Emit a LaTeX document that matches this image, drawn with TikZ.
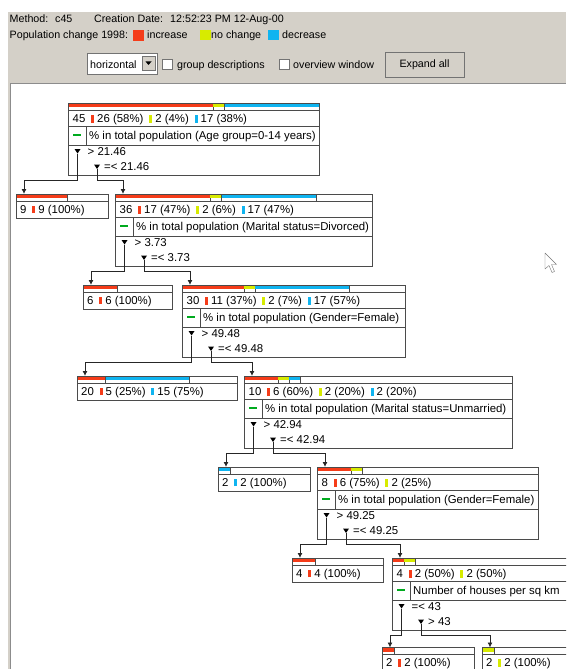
\documentclass[tikz,border=0pt]{standalone}
\usepackage{fontspec}
\setmainfont{Liberation Sans}
\usetikzlibrary{positioning, arrows.meta}
\definecolor{inc}{RGB}{245,60,25}
\definecolor{noch}{RGB}{215,235,0}
\definecolor{dec}{RGB}{15,180,240}
\definecolor{keep}{RGB}{0,170,30}
\definecolor{win}{RGB}{212,208,200}
\definecolor{edge}{RGB}{75,75,75}
\newcommand{\cw}{5.556}
\newcommand{\mk}[1]{\hspace{2.5pt}\textcolor{#1}{\rule{3pt}{7.5pt}}}
\newcommand{\splitnode}[9]{%
  \node[box, minimum width=#4pt] (#1) at (#2,#3) {};
  \begin{scope}[shift={(#1.north west)}]
    \foreach \p/\q/\col in {#5} {
      \fill[\col] (\p*\cw+1,0.7) rectangle (\q*\cw+1,4);
      \draw[row] (\q*\cw+1,0) -- (\q*\cw+1,7);
    }
    \draw[row] (0,7) -- (#4,7) (0,23) -- (#4,23) (0,42) -- (#4,42) (18,23) -- (18,42);
    \node[txt] (#1-c) at (4.5,19.5) {#6};
    \fill[keep] (4.5,30.5) rectangle (12.5,33);
    \node[txt] (#1-a) at (21,36) {#7};
    \coordinate (#1-b1) at (9.5,50.5);
    \coordinate (#1-b2) at (29,66);
    \fill (#1-b1) -- ++(-3,-4.5) -- ++(6,0) -- cycle;
    \fill (#1-b2) -- ++(-3,-4.5) -- ++(6,0) -- cycle;
    \node[txt] (#1-t1) at (19.5,52) {#8};
    \node[txt] (#1-t2) at (36,67.5) {#9};
    \coordinate (#1-j) at (0,77);
    \coordinate (#1-in) at (8,0);
  \end{scope}}
\newcommand{\leafnode}[6]{%
  \node[leaf, minimum width=#4pt] (#1) at (#2,#3) {};
  \begin{scope}[shift={(#1.north west)}]
    \foreach \p/\q/\col in {#5} {
      \fill[\col] (\p*\cw+1,0.7) rectangle (\q*\cw+1,4);
      \draw[row] (\q*\cw+1,0) -- (\q*\cw+1,7);
    }
    \draw[row] (0,7) -- (#4,7);
    \node[txt] (#1-c) at (4,19) {#6};
    \coordinate (#1-in) at (8,0);
  \end{scope}}

\begin{document}
\begin{tikzpicture}[x=1pt, y=-1pt,
    hdr/.style={anchor=base west, inner sep=0pt, font=\fontsize{10.7}{12}\selectfont},
    txt/.style={anchor=base west, inner sep=0pt, font=\fontsize{11.4}{13}\selectfont},
    box/.style={draw=edge, line width=0.9pt, fill=white, anchor=north west, inner sep=0pt, outer sep=0pt, minimum height=72pt},
    leaf/.style={box, minimum height=24pt},
    row/.style={draw=edge, line width=0.9pt},
    link/.style={draw=black!85, line width=0.9pt, -{Latex[length=5pt, width=5pt]}},
    field/.style={draw=black!55, fill=white, anchor=north west, inner sep=0pt, outer sep=0pt},
    knob/.style={draw=black!55, fill=win, anchor=north west, inner sep=0pt, outer sep=0pt, font=\fontsize{10.7}{12}\selectfont},
    sq/.style={anchor=north west, inner sep=0pt, minimum size=10.5pt}]
    \useasboundingbox (0,0) rectangle (566,669);
    \clip (0,0) rectangle (566,669);
    \fill[white] (0,0) rectangle (566,669);
    \fill[win] (8,12) rectangle (566,669);
    \fill[white] (10,83) rectangle (566,669);
    \draw[black!45] (10.5,669) -- (10.5,83.5) -- (566,83.5);

    \node[hdr] (method) at (9.5,22.5) {Method:};
    \node[hdr] (methodval) at (55,22.5) {c45};
    \node[hdr] (datelbl) at (94,22.5) {Creation Date:};
    \node[hdr] (dateval) at (170,22.5) {12:52:23 PM 12-Aug-00};
    \node[hdr] (legend) at (9.5,39) {Population change 1998:};
    \node[sq, fill=inc] (sqinc) at (133,30) {};
    \node[hdr] (lblinc) at (147,39) {increase};
    \node[sq, fill=noch] (sqnoch) at (200,29.5) {};
    \node[hdr] (lblnoch) at (211,39) {no change};
    \node[sq, fill=dec] (sqdec) at (268,29.5) {};
    \node[hdr] (lbldec) at (282,39) {decrease};

    \node[field, minimum width=70pt, minimum height=21pt] (view) at (87,53) {};
    \node[hdr] (viewtxt) at (90,68) {horizontal};
    \node[knob, minimum width=13pt, minimum height=14pt] (drop) at (142,56.5) {};
    \fill (145.5,61.5) -- (151.5,61.5) -- (148.5,65) -- cycle;
    \node[field, minimum size=10pt] (grpbox) at (162,59) {};
    \node[hdr] (grplbl) at (177,68) {group descriptions};
    \node[field, minimum size=10pt] (ovwbox) at (279,59) {};
    \node[hdr] (ovwlbl) at (293,68) {overview window};
    \node[knob, minimum width=79pt, minimum height=25pt] (expand) at (385,52) {Expand all};

    \splitnode{n45}{68}{103}{251}{0/26/inc, 26/28/noch, 28/45/dec}
      {45 \mk{inc} 26 (58\%) \mk{noch} 2 (4\%) \mk{dec} 17 (38\%)}
      {\% in total population (Age group=0-14 years)}{> 21.46}{=< 21.46}
    \leafnode{n9}{16}{194}{92}{0/9/inc}{9 \mk{inc} 9 (100\%)}
    \splitnode{n36}{115}{194}{257}{0/17/inc, 17/19/noch, 19/36/dec}
      {36 \mk{inc} 17 (47\%) \mk{noch} 2 (6\%) \mk{dec} 17 (47\%)}
      {\% in total population (Marital status=Divorced)}{> 3.73}{=< 3.73}
    \leafnode{n6}{83}{285}{89}{0/6/inc}{6 \mk{inc} 6 (100\%)}
    \splitnode{n30}{182}{285}{223}{0/11/inc, 11/13/noch, 13/30/dec}
      {30 \mk{inc} 11 (37\%) \mk{noch} 2 (7\%) \mk{dec} 17 (57\%)}
      {\% in total population (Gender=Female)}{> 49.48}{=< 49.48}
    \leafnode{n20}{77}{376}{160}{0/5/inc, 5/20/dec}{20 \mk{inc} 5 (25\%) \mk{dec} 15 (75\%)}
    \splitnode{n10}{244}{376}{268}{0/6/inc, 6/8/noch, 8/10/dec}
      {10 \mk{inc} 6 (60\%) \mk{noch} 2 (20\%) \mk{dec} 2 (20\%)}
      {\% in total population (Marital status=Unmarried)}{> 42.94}{=< 42.94}
    \leafnode{n2a}{218}{467}{92}{0/2/dec}{2 \mk{dec} 2 (100\%)}
    \splitnode{n8}{317}{467}{221}{0/6/inc, 6/8/noch}
      {8 \mk{inc} 6 (75\%) \mk{noch} 2 (25\%)}
      {\% in total population (Gender=Female)}{> 49.25}{=< 49.25}
    \leafnode{n4a}{292}{558}{91}{0/4/inc}{4 \mk{inc} 4 (100\%)}
    \splitnode{n4b}{392}{558}{220}{0/2/inc, 2/4/noch}
      {4 \mk{inc} 2 (50\%) \mk{noch} 2 (50\%)}
      {Number of houses per sq km}{=< 43}{> 43}
    \leafnode{n2b}{382}{647.5}{92}{0/2/inc}{2 \mk{inc} 2 (100\%)}
    \leafnode{n2c}{482}{647.5}{92}{0/2/noch}{2 \mk{noch} 2 (100\%)}

    \foreach \up/\br/\dn in {n45/b1/n9, n45/b2/n36, n36/b1/n6, n36/b2/n30, n30/b1/n20, n30/b2/n10,
        n10/b1/n2a, n10/b2/n8, n8/b1/n4a, n8/b2/n4b, n4b/b1/n2b, n4b/b2/n2c}
      \draw[link] (\up-\br) |- (\up-j -| \dn-in) -- (\dn-in);

    \draw[black!55, fill=white, line join=round] (545,253) -- (545,269) -- (549,265.5) -- (552,272.5)
      -- (554.5,271.5) -- (551.5,264.5) -- (556.5,264.5) -- cycle;
\end{tikzpicture}
\end{document}
